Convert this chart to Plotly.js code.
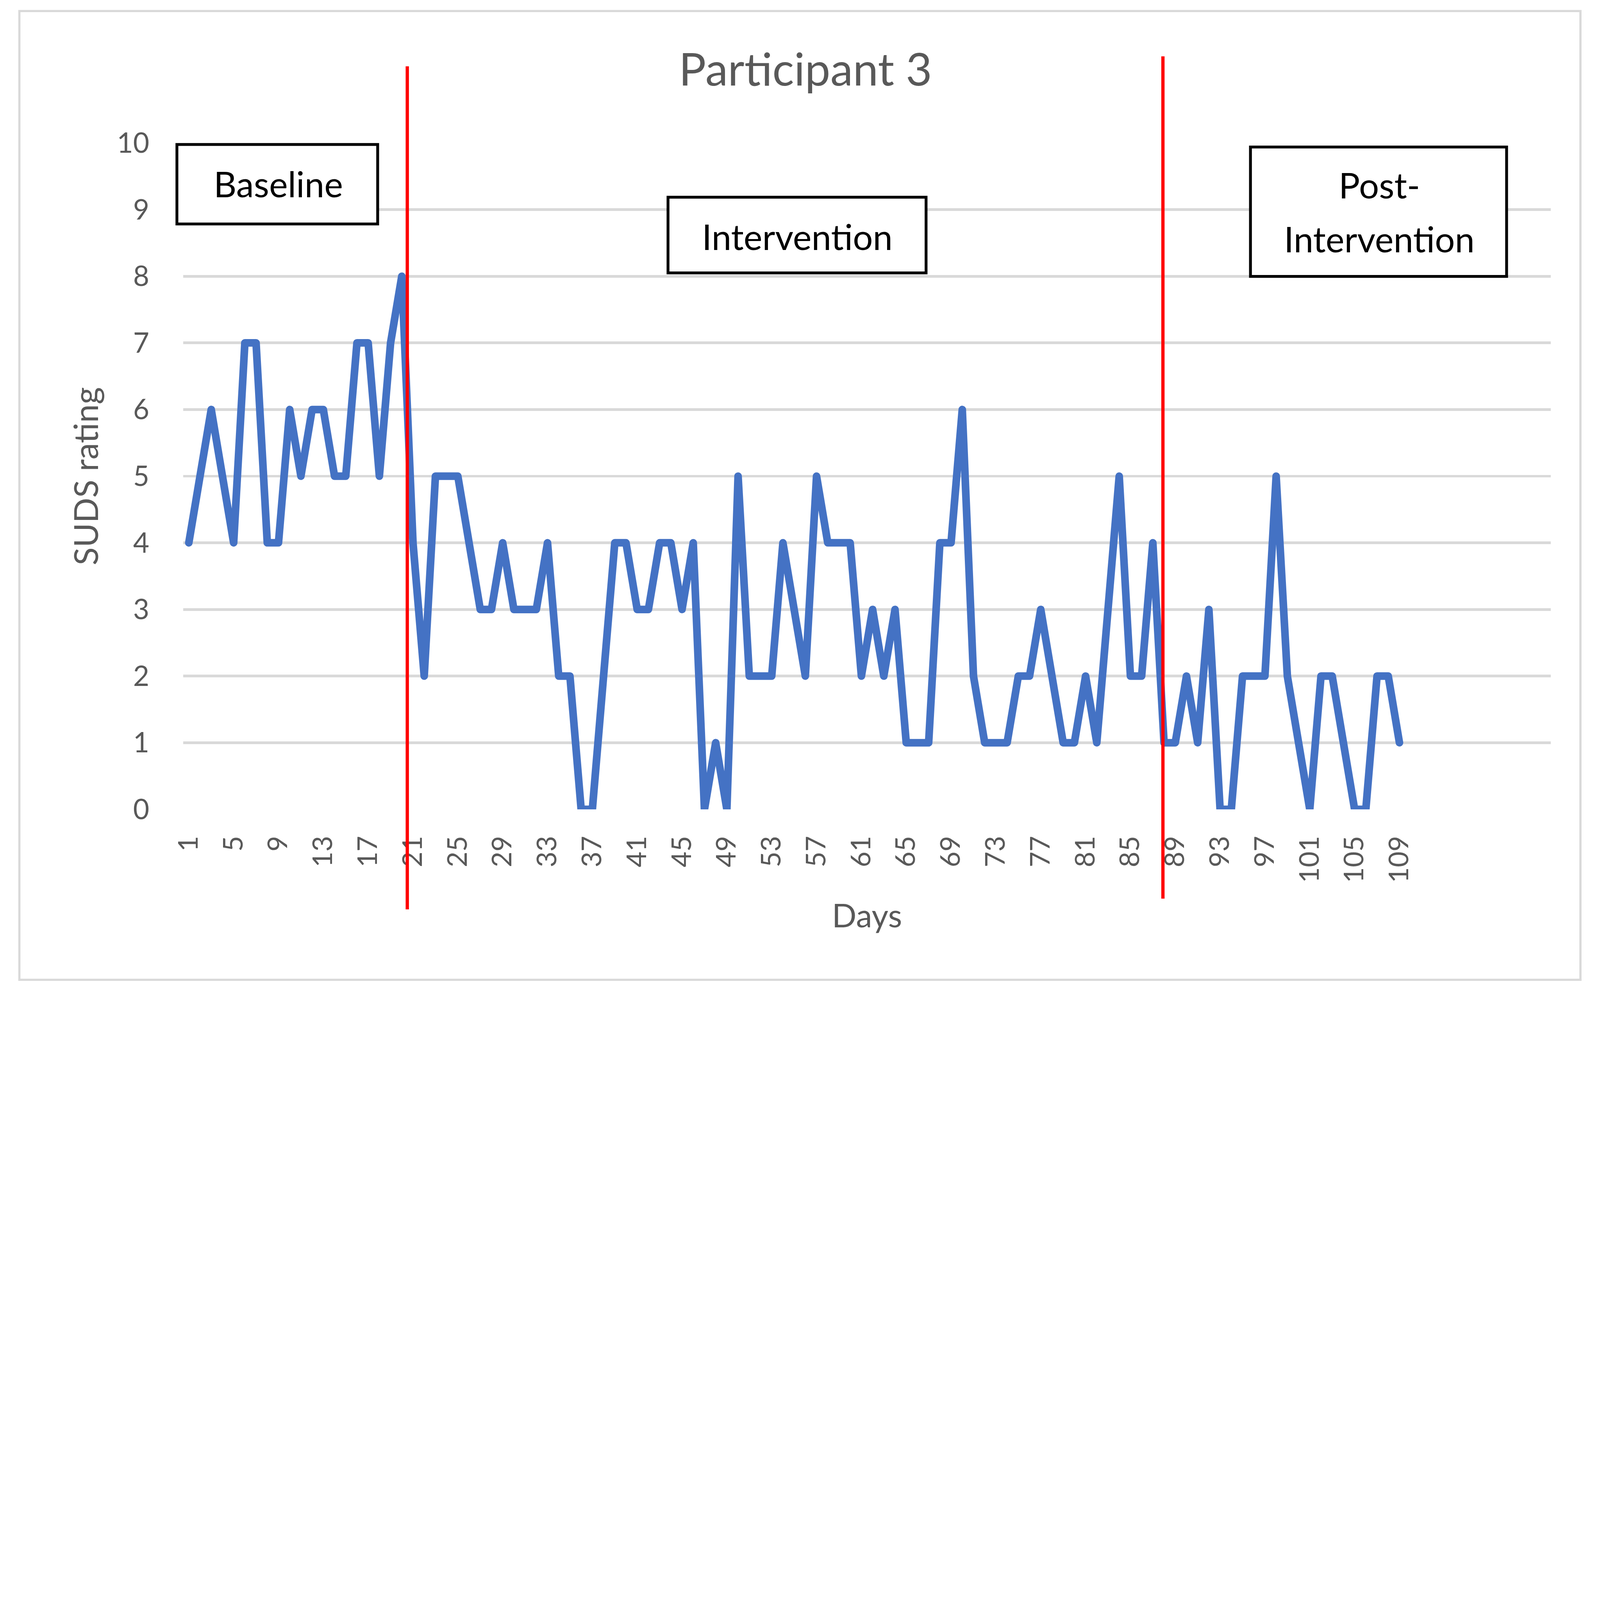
<!DOCTYPE html>
<html>
<head>
<meta charset="utf-8">
<script src="https://cdn.plot.ly/plotly-3.0.1.min.js"></script>
<style>
html, body { margin: 0; padding: 0; background: #ffffff; overflow: hidden; }
.scatterlayer .js-line { stroke-linejoin: round !important; stroke-linecap: round !important; }
</style>
</head>
<body>
<div id="chart"></div>
<script>
// Days (categories)
const days = [1,2,3,4,5,6,7,8,9,10,11,12,13,14,15,16,17,18,19,20,
  21,22,23,24,25,26,27,28,29,30,31,32,33,34,35,36,37,38,39,40,
  41,42,43,44,45,46,47,48,49,50,51,52,53,54,55,56,57,58,59,60,
  61,62,63,64,65,66,67,68,69,70,71,72,73,74,75,76,77,78,79,80,
  81,82,83,84,85,86,87,88,89,90,91,92,93,94,95,96,97,98,99,100,
  101,102,103,104,105,106,107,108,109];

// SUDS rating per day
const suds = [4,5,6,5,4,7,7,4,4,6,5,6,6,5,5,7,7,5,7,8,
  4,2,5,5,5,4,3,3,4,3,3,3,4,2,2,0,0,2,4,4,
  3,3,4,4,3,4,0,1,0,5,2,2,2,4,3,2,5,4,4,4,
  2,3,2,3,1,1,1,4,4,6,2,1,1,1,2,2,3,2,1,1,
  2,1,3,5,2,2,4,1,1,2,1,3,0,0,2,2,2,5,2,1,
  0,2,2,1,0,0,2,2,1];

// X tick labels (every fourth day)
const xTicks = [1,5,9,13,17,21,25,29,33,37,41,45,49,53,57,61,65,69,73,77,81,85,89,93,97,101,105,109];
const yTicks = [0,1,2,3,4,5,6,7,8,9,10];

// Phase boundaries (in day units) and phase labels
const phaseLines = [20.49, 87.9];
const phaseLabels = ["Baseline", "Intervention", "Post-", "Intervention"];

const FONT = "Lato, 'Open Sans', sans-serif";
const GREY = "#595959";

// design size; scaled to whatever viewport is actually available
const W0 = 7334, H0 = 4533;
const vw = window.innerWidth || W0, vh = window.innerHeight || H0;
const S = Math.min(vw / W0, vh / H0);
const px = v => v * S;

const trace = {
  x: days,
  y: suds,
  type: "scatter",
  mode: "lines",
  line: { color: "#4472C4", width: px(35) },
  cliponaxis: false,
  hoverinfo: "skip"
};

const shapes = [
  { type: "rect", xref: "paper", yref: "paper", x0: -0.1198, x1: 1.0217, y0: -0.2557, y1: 1.198,
    line: { color: "#D9D9D9", width: px(10) }, fillcolor: "rgba(0,0,0,0)", layer: "below" },
  { type: "line", xref: "x", yref: "paper", x0: phaseLines[0], x1: phaseLines[0], y0: -0.150, y1: 1.115,
    line: { color: "#FF0000", width: px(15) } },
  { type: "line", xref: "x", yref: "paper", x0: phaseLines[1], x1: phaseLines[1], y0: -0.134, y1: 1.130,
    line: { color: "#FF0000", width: px(15) } },
  { type: "rect", xref: "paper", yref: "paper", x0: -0.0046, x1: 0.1422, y0: 0.8784, y1: 0.9977,
    line: { color: "#000000", width: px(13) }, fillcolor: "#ffffff" },
  { type: "rect", xref: "paper", yref: "paper", x0: 0.3545, x1: 0.5432, y0: 0.8050, y1: 0.9186,
    line: { color: "#000000", width: px(13) }, fillcolor: "#ffffff" },
  { type: "rect", xref: "paper", yref: "paper", x0: 0.7804, x1: 0.9677, y0: 0.7998, y1: 0.9939,
    line: { color: "#000000", width: px(13) }, fillcolor: "#ffffff" }
];

const labelFont = { family: FONT, size: px(162), color: "#000000" };
const annotations = [
  { text: phaseLabels[0], xref: "paper", yref: "paper", x: 0.0695, y: 0.9391, xanchor: "center", yanchor: "middle", showarrow: false, font: labelFont },
  { text: phaseLabels[1], xref: "paper", yref: "paper", x: 0.4490, y: 0.8598, xanchor: "center", yanchor: "middle", showarrow: false, font: labelFont },
  { text: phaseLabels[2], xref: "paper", yref: "paper", x: 0.8745, y: 0.9370, xanchor: "center", yanchor: "middle", showarrow: false, font: labelFont },
  { text: phaseLabels[3], xref: "paper", yref: "paper", x: 0.8745, y: 0.8565, xanchor: "center", yanchor: "middle", showarrow: false, font: labelFont }
];

const layout = {
  width: px(W0),
  height: px(H0),
  margin: { l: px(840), r: px(225), t: px(655), b: px(824), pad: 0 },
  paper_bgcolor: "#ffffff",
  plot_bgcolor: "#ffffff",
  showlegend: false,
  font: { family: FONT, color: GREY },
  title: {
    text: "Participant 3",
    font: { family: FONT, size: px(208), color: GREY },
    xref: "paper", x: 0.455, xanchor: "center",
    yref: "container", y: 0.9294, yanchor: "middle"
  },
  xaxis: {
    range: [0.5, 122.5],
    showgrid: false,
    zeroline: false,
    showline: false,
    tickmode: "array",
    tickvals: xTicks,
    ticktext: xTicks.map(String),
    tickangle: -90,
    ticks: "outside",
    ticklen: px(70),
    tickcolor: "rgba(0,0,0,0)",
    tickfont: { family: FONT, size: px(124), color: GREY },
    automargin: false,
    title: { text: "Days", font: { family: FONT, size: px(148), color: GREY }, standoff: px(100) }
  },
  yaxis: {
    range: [0, 10],
    tickmode: "array",
    tickvals: yTicks,
    ticktext: yTicks.map(String),
    showgrid: true,
    gridcolor: "#D9D9D9",
    gridwidth: px(12),
    zeroline: false,
    showline: false,
    ticks: "outside",
    ticklen: px(128),
    tickcolor: "rgba(0,0,0,0)",
    tickfont: { family: FONT, size: px(128), color: GREY },
    automargin: false,
    title: { text: "SUDS rating", font: { family: FONT, size: px(152), color: GREY }, standoff: px(34) }
  },
  shapes: shapes,
  annotations: annotations
};

Plotly.newPlot("chart", [trace], layout, { staticPlot: true, displayModeBar: false });
</script>
</body>
</html>
